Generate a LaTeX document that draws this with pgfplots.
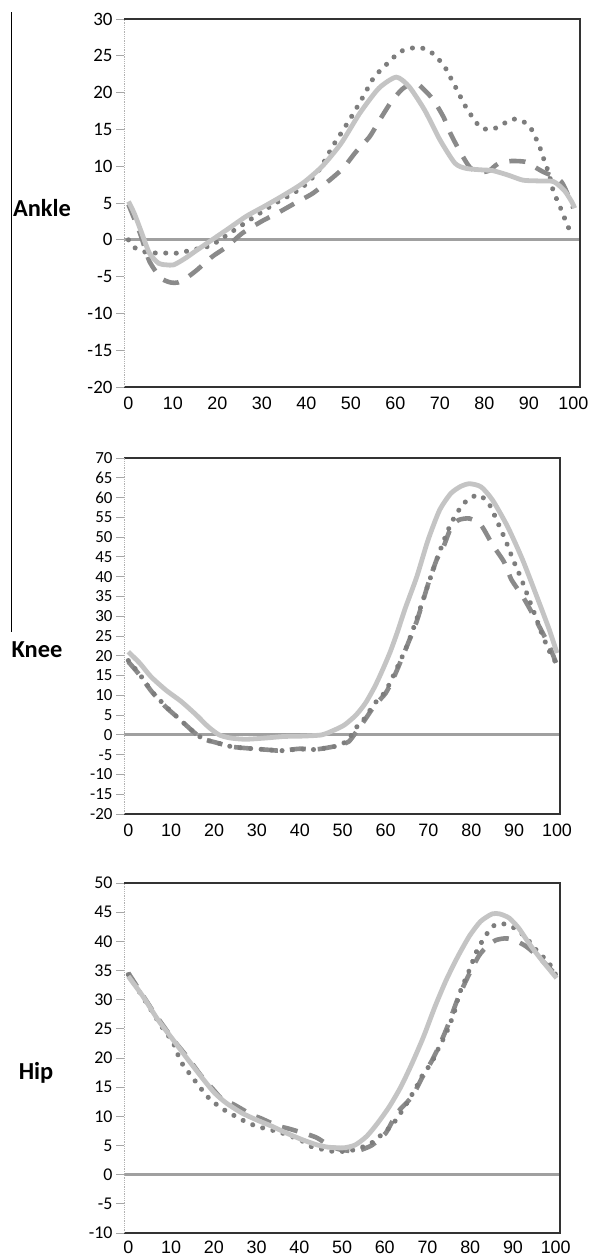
\documentclass[border=0pt]{standalone}
\usepackage{pgfplots}
\pgfplotsset{compat=1.18}
\usepackage{fontspec}
\setmainfont{Carlito}
\newfontfamily\arialf{Liberation Sans}
\definecolor{solidc}{RGB}{196,196,196}
\definecolor{dotc}{RGB}{125,125,125}
\definecolor{dashc}{RGB}{138,138,138}
\definecolor{zeroc}{RGB}{160,160,160}
\pgfplotsset{
  panel/.style={
    scale only axis,
    /pgf/number format/assume math mode=true,
    axis line style={draw=none},
    tick align=outside,
    ytick pos=left,
    xtick pos=bottom,
    major tick length=8bp,
    ytick style={draw=black!35, line width=0.8bp},
    xtick style={draw=none},
    xtick={0,10,...,100},
    xticklabel style={font=\arialf\fontsize{18}{18}\selectfont, yshift=2bp},
    clip=false,
    after end axis/.code={
      \draw[black!80, line width=1.4bp] (rel axis cs:0,0) -- (rel axis cs:1,0) -- (rel axis cs:1,1) -- (rel axis cs:0,1);
      \draw[black!30, line width=0.8bp, densely dotted] (rel axis cs:0,0) -- (rel axis cs:0,1);
    },
  },
  solidser/.style={solidc, line width=4.8bp, smooth, tension=0.4},
  dotser/.style={dotc, line width=5bp, line cap=round, dash pattern=on 0.1bp off 10.4bp, smooth, tension=0.4},
  dashser/.style={dashc, line width=4.6bp, dash pattern=on 16bp off 12bp, smooth, tension=0.4},
  zeroser/.style={zeroc, line width=3bp},
}
\begin{document}
\begin{tikzpicture}
\path[use as bounding box] (0bp,0bp) rectangle (594bp,-1256bp);
\draw[black, line width=1bp] (11.7bp,-12bp) -- (11.7bp,-632bp);
\node[font=\bfseries\fontsize{24.5}{24.5}\selectfont] at (42bp,-208bp) {Ankle};
\node[font=\bfseries\fontsize{24.5}{24.5}\selectfont] at (37bp,-650bp) {Knee};
\node[font=\bfseries\fontsize{24.5}{24.5}\selectfont] at (36bp,-1073bp) {Hip};

% ---------------- Ankle ----------------
\begin{axis}[panel, at={(124bp,-19bp)}, anchor=north west,
  width=456bp, height=368bp,
  xmin=-1, xmax=101.5, ymin=-20, ymax=30,
  ytick={-20,-15,...,30},
  yticklabel style={font=\fontsize{19}{19}\selectfont}]
\addplot[zeroser] coordinates {(-1,0) (101.5,0)};
\addplot[dashser] coordinates {
(0,4.8) (2.6,0.9) (4.7,-2.9) (7.3,-5.2) (9.5,-5.8) (11.1,-5.8) (13,-5.2) (15.4,-4.1)
(18.8,-2.3) (22.2,-0.9) (25.6,0.9) (29.9,2.5) (33.7,3.7) (37.5,5.0) (41.4,6.3)
(45.2,8.1) (48.2,9.7) (51.2,12.0) (54.2,14.0) (56.3,16.1) (58.9,18.6) (61.4,20.4)
(63.5,21.2) (65,21.2) (68.3,19.2) (70.8,16.7) (72.5,14.3) (74.7,11.8) (76.8,9.8)
(79,9.2) (81.1,9.4) (83,10.3) (86,10.7) (89.2,10.6) (91,10.0) (93,9.3) (97.3,7.9) (100,4.3)};
\addplot[dotser] coordinates {
(0,0) (1.5,-1.1) (4,-1.7) (6.5,-1.8) (9,-1.8) (11.5,-1.8) (14,-1.4) (16.6,-1.1)
(18.8,-0.7) (22,0.6) (25,1.8) (28,3.0) (31,4.2) (34,5.3) (37,6.3) (40,7.6) (43,9.6)
(45.9,12.7) (47.6,14.3) (50.2,16.8) (52.8,19.5) (55.1,22) (57.1,23.3) (58.8,24.3)
(60.9,25.5) (63.2,26.0) (65.7,26.1) (68,25.5) (69.9,24.4) (71.4,23.2) (72.6,21.8)
(74,20.2) (75.5,18.4) (77.5,16.5) (79.3,15.2) (81.8,15.0) (84.1,15.7) (86.4,16.4)
(88.7,16.1) (90.6,15.0) (91.8,13.5) (92.7,12.2) (93.5,10.7) (94.5,9.0) (95.6,6.4)
(96.7,5.0) (97.7,3.4) (98.7,2.0) (99.6,0.5)};
\addplot[solidser] coordinates {
(0,5.2) (1.3,3.6) (3.0,0.9) (4.7,-1.8) (6.8,-3.2) (8.5,-3.4) (10.2,-3.4) (12.8,-2.5)
(15.4,-1.4) (18.8,0) (22.2,1.4) (26.5,3.2) (30.7,4.6) (35,6.1) (39.2,7.7) (43.5,9.95)
(47.8,13.1) (52,17.2) (56.3,20.6) (60.2,22.1) (63.1,20.8) (66.6,17.6) (70,13.6)
(73.4,10.4) (75.9,9.7) (79.4,9.5) (81.9,9.4) (85.3,8.8) (88.7,8.1) (92.2,8.0)
(95.6,7.9) (98.1,6.6) (99.8,5.0) (100.3,4.3)};
\end{axis}

% ---------------- Knee ----------------
\begin{axis}[panel, at={(124bp,-458bp)}, anchor=north west,
  width=436bp, height=356bp,
  xmin=-1, xmax=100.7, ymin=-20, ymax=70,
  ytick={-20,-15,...,70},
  yticklabel style={font=\fontsize{17}{17}\selectfont}]
\addplot[zeroser] coordinates {(-1,0) (100.7,0)};
\addplot[dashser] coordinates {
(0,18.5) (2.6,15.2) (5.5,10.9) (8.6,7.2) (11.3,4.6) (15.6,0.4) (17.7,-1.1) (20,-1.8)
(24.2,-3.0) (28,-3.4) (33,-3.8) (35.5,-4.0) (40,-3.5) (43.3,-3.7) (45.6,-3.4)
(49,-2.7) (51.4,-1.7) (53,0.5) (55,3.5) (57.5,7.5) (60,10.5) (62,14.7) (64.6,21.4)
(67.3,28.8) (69.9,38) (72,44.5) (73.5,47.5) (75.2,52.2) (77,54.3) (79.6,54.7)
(82.3,53.0) (85,48) (87.6,43.8) (89.4,39.2) (92,35) (94.2,30.8) (96.5,26.1)
(98.2,22.5) (100,17.6)};
\addplot[dotser] coordinates {
(0,18.8) (2.6,15.4) (5.5,11.0) (8.6,7.4) (11.3,4.6) (15.6,0.4) (17.7,-1.1) (20,-1.8)
(24.2,-3.0) (28,-3.4) (33,-3.8) (35.5,-4.0) (40,-3.6) (43.3,-3.7) (45.6,-3.4)
(49,-2.7) (51.4,-1.2) (52.7,1.3) (55,4) (57.5,8) (60,11) (62.5,16.5) (65,22.5)
(67.5,30) (70,38.2) (72.5,46) (75,52.8) (76.5,55.8) (78,58.2) (79.5,59.7) (81,60.5)
(82,60.6) (84.1,58.5) (86.3,53.4) (88,49.2) (89.8,44.2) (91.6,39.6) (93.4,34.5)
(94.7,30.8) (96.5,25.5) (98.2,21.2) (100,17.8)};
\addplot[solidser] coordinates {
(0,21.0) (2.7,18.1) (5.3,14.7) (8.8,11.3) (12.4,8.4) (15.9,5.0) (18.6,2.1) (21.2,0)
(23.9,-0.8) (27.4,-1.1) (31.9,-0.8) (36.3,-0.4) (40.7,-0.3) (45.1,0) (47.8,1.1)
(50.4,2.5) (53.1,5.0) (55.3,8.0) (57.5,12.2) (59.3,16.4) (61.1,21.0) (62.8,26.1)
(64.6,32) (67.3,40.0) (69.9,49.2) (72.6,56.8) (75.2,61.0) (77.5,62.8) (79.6,63.5)
(82.3,62.7) (85,59.3) (88.5,52.6) (92,44.2) (95.6,34.1) (98.2,26.6) (100,20.7)};
\end{axis}

% ---------------- Hip ----------------
\begin{axis}[panel, at={(124bp,-883bp)}, anchor=north west,
  width=436bp, height=350bp,
  xmin=-1, xmax=101, ymin=-10, ymax=50,
  ytick={-10,-5,...,50},
  xticklabel style={yshift=2bp},
  yticklabel style={font=\fontsize{18}{18}\selectfont}]
\addplot[zeroser] coordinates {(-1,0) (101,0)};
\addplot[dashser] coordinates {
(0,34.6) (3,31.2) (6,27.8) (8.7,25) (11,22.7) (14,20) (17,17) (20,14.5) (22,12.9)
(24.5,12.1) (26.9,11.1) (29,10.2) (30.9,9.7) (33,9.0) (35.3,8.3) (37.5,7.9) (39.8,7.4)
(42,6.9) (44.2,6.3) (47,5.0) (49.6,4.3) (53.1,4.0) (55,4.4) (57.1,5.1) (60.2,7.1)
(62.9,10.6) (66.4,13.4) (69,17) (71,19.5) (73,22.5) (75,26) (77,30) (79.5,34)
(82,37.5) (84,39.2) (86,40.2) (88,40.5) (89.5,40.4) (91.5,39.8) (93.5,38.9)
(97,36.6) (100,34.3)};
\addplot[dotser] coordinates {
(0,34.3) (4.3,29.4) (7.8,25.4) (10.5,22.6) (12.3,19.4) (15.4,16.3) (18.5,13.4)
(20.7,12) (22.9,10.9) (27.4,9.1) (30,8.3) (32.7,7.8) (35.3,7.3) (38,6.6) (40.2,6.0)
(42.5,4.9) (45.1,4.4) (47.8,4.0) (50.4,4.0) (53.1,4.3) (55.3,4.9) (57.5,5.7)
(59.3,6.9) (61.5,8.3) (62.9,9.7) (64.7,11.7) (67.3,14.9) (69.1,17.4) (70.9,19.1)
(72.6,21.7) (74.4,24.3) (76.2,27.7) (77.5,31.1) (79.8,35.1) (81.5,38.3) (83.7,41.1)
(85.9,42.9) (88.6,42.9) (90.9,42) (93.1,40.6) (95.7,38.3) (98.4,36.3) (100.2,34.0)};
\addplot[solidser] coordinates {
(0,34) (3.4,30.6) (6.9,26.6) (10.5,23.1) (14,19.7) (17.6,16.3) (20.2,14) (22.9,12.3)
(26.5,10.6) (30,9.4) (33.6,8.3) (37.1,7.1) (40.7,6) (44.2,5.1) (46.9,4.7) (50.4,4.6)
(53.1,5.1) (55.8,6.6) (58.4,8.9) (61.1,11.7) (63.8,15.1) (66.4,19.1) (69.1,23.7)
(71.8,28.9) (74.4,33.4) (77.1,37.4) (79.8,40.9) (82.4,43.4) (85.1,44.7) (86.9,44.7)
(89.1,44) (91.3,42.3) (94,39.4) (96.6,36.9) (100.2,33.7)};
\end{axis}
\end{tikzpicture}
\end{document}
